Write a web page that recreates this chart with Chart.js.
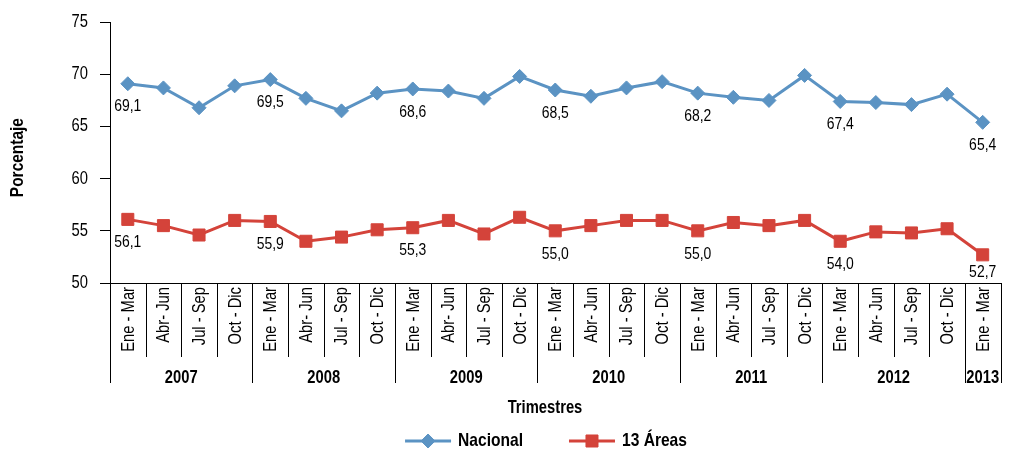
<!DOCTYPE html>
<html><head><meta charset="utf-8">
<script src="https://cdn.jsdelivr.net/npm/chart.js@4.4.1/dist/chart.umd.min.js"></script>
<style>html,body{margin:0;padding:0;background:#fff}#wrap{width:1010px;height:453px}</style>
</head><body><div id="wrap"><canvas id="c" width="1010" height="453"></canvas></div>
<script>
const categories = [
  "Ene - Mar","Abr- Jun","Jul - Sep","Oct - Dic",
  "Ene - Mar","Abr- Jun","Jul - Sep","Oct - Dic",
  "Ene - Mar","Abr- Jun","Jul - Sep","Oct - Dic",
  "Ene - Mar","Abr- Jun","Jul - Sep","Oct - Dic",
  "Ene - Mar","Abr- Jun","Jul - Sep","Oct - Dic",
  "Ene - Mar","Abr- Jun","Jul - Sep","Oct - Dic",
  "Ene - Mar"
];
const years = ["2007", "2008", "2009", "2010", "2011", "2012", "2013"];
const categoryYear = [
  "2007","2007","2007","2007","2008","2008","2008","2008",
  "2009","2009","2009","2009","2010","2010","2010","2010",
  "2011","2011","2011","2011","2012","2012","2012","2012","2013"
];
const nacional = [69.1, 68.7, 66.8, 68.9, 69.5, 67.7, 66.5, 68.2, 68.6, 68.4, 67.7, 69.8, 68.5, 67.9, 68.7, 69.3, 68.2, 67.8, 67.5, 69.9, 67.4, 67.3, 67.1, 68.1, 65.4];
const areas13 = [56.1, 55.5, 54.6, 56.0, 55.9, 54.0, 54.4, 55.1, 55.3, 56.0, 54.7, 56.3, 55.0, 55.5, 56.0, 56.0, 55.0, 55.8, 55.5, 56.0, 54.0, 54.9, 54.8, 55.2, 52.7];
const labeledIndices = [0, 4, 8, 12, 16, 20, 24];
const yTicks = [50, 55, 60, 65, 70, 75];
const seriesNames = ["Nacional", "13 Áreas"];
const yTitle = "Porcentaje";
const xTitle = "Trimestres";

const BLUE = "#5B93C3";
const RED = "#D4433A";
const FONT = "'Liberation Sans', Arial, sans-serif";
const NARROW = 0.82;

function narrowText(ctx, text, x, y, align, rot, k) {
  ctx.save();
  ctx.translate(x, y);
  if (rot) ctx.rotate(rot);
  ctx.scale(k || NARROW, 1);
  ctx.textAlign = align;
  ctx.fillText(text, 0, 0);
  ctx.restore();
}
function narrowWidth(ctx, text) { return ctx.measureText(text).width * NARROW; }

const overlay = {
  id: 'overlay',
  afterDatasetsDraw(chart) {
    const ctx = chart.ctx;
    const area = chart.chartArea;
    ctx.save();
    ctx.fillStyle = '#000';
    ctx.font = "17px " + FONT;
    ctx.textBaseline = 'middle';
    chart.data.datasets.forEach((ds, di) => {
      const meta = chart.getDatasetMeta(di);
      labeledIndices.forEach(i => {
        const el = meta.data[i];
        let y = el.y + 23;
        if (y > area.bottom - 11) y = area.bottom - 11;
        narrowText(ctx, ds.data[i].toFixed(1).replace('.', ','), el.x, y, 'center');
      });
    });
    ctx.restore();
  },
  afterDraw(chart) {
    const ctx = chart.ctx;
    const area = chart.chartArea;
    const xs = chart.scales.x;
    const ys = chart.scales.y;
    const n = categories.length;
    const step = xs.getPixelForValue(1) - xs.getPixelForValue(0);
    const b = i => xs.getPixelForValue(i) - step / 2;
    ctx.save();
    ctx.fillStyle = '#000';
    ctx.textBaseline = 'middle';
    // y tick labels
    ctx.font = "18px " + FONT;
    yTicks.forEach(v => narrowText(ctx, String(v), area.left - 22, ys.getPixelForValue(v), 'right'));
    // y title
    ctx.font = "bold 18px " + FONT;
    narrowText(ctx, yTitle, 18, (area.top + area.bottom) / 2 + 5, 'center', -Math.PI / 2, 0.86);
    // separators
    ctx.strokeStyle = '#000';
    ctx.lineWidth = 1;
    for (let i = 0; i <= n; i++) {
      const x = Math.round(b(i)) + 0.5;
      const isYear = i === 0 || i === n || categoryYear[i] !== categoryYear[i - 1];
      ctx.beginPath();
      ctx.moveTo(x, area.bottom);
      ctx.lineTo(x, area.bottom + (isYear ? 100 : 74));
      ctx.stroke();
    }
    // category labels
    ctx.font = "18px " + FONT;
    for (let i = 0; i < n; i++) {
      narrowText(ctx, categories[i], xs.getPixelForValue(i) + 1, area.bottom + 4, 'right', -Math.PI / 2);
    }
    // year labels
    ctx.font = "bold 18px " + FONT;
    years.forEach(yr => {
      const idx = categoryYear.map((c, i) => c === yr ? i : -1).filter(i => i >= 0);
      const x0 = b(idx[0]), x1 = b(idx[idx.length - 1] + 1);
      narrowText(ctx, yr, (x0 + x1) / 2, area.bottom + 95, 'center');
    });
    // x title
    narrowText(ctx, xTitle, 545, 408, 'center');
    // legend
    const markers = [{style: 'rectRot', r: 7, color: BLUE}, {style: 'rect', r: 8.5, color: RED}];
    ctx.font = "bold 19px " + FONT;
    const lineW = 46, gapText = 7, gapItem = 46;
    const widths = seriesNames.map(s => narrowWidth(ctx, s));
    const total = widths.reduce((a, w) => a + lineW + gapText + w, 0) + gapItem;
    let x = 546 - total / 2;
    const ly = 441;
    seriesNames.forEach((s, i) => {
      const m = markers[i];
      ctx.strokeStyle = m.color;
      ctx.lineWidth = 3;
      ctx.beginPath();
      ctx.moveTo(x, ly); ctx.lineTo(x + lineW, ly); ctx.stroke();
      ctx.fillStyle = m.color;
      ctx.lineWidth = 1;
      Chart.helpers.drawPoint(ctx, {pointStyle: m.style, radius: m.r, rotation: 0, borderWidth: 1}, x + lineW / 2, ly);
      ctx.fillStyle = '#000';
      narrowText(ctx, s, x + lineW + gapText, ly, 'left');
      x += lineW + gapText + widths[i] + gapItem;
    });
    ctx.restore();
  }
};

new Chart(document.getElementById('c'), {
  type: 'line',
  data: {
    labels: categories,
    datasets: [
      {label: seriesNames[0], data: nacional, borderColor: BLUE, backgroundColor: BLUE, borderWidth: 3,
       pointStyle: 'rectRot', pointRadius: 7, pointBorderWidth: 1, tension: 0},
      {label: seriesNames[1], data: areas13, borderColor: RED, backgroundColor: RED, borderWidth: 3,
       pointStyle: 'rect', pointRadius: 8.5, pointBorderWidth: 1, tension: 0}
    ]
  },
  options: {
    responsive: false,
    animation: false,
    layout: {padding: {top: 19, right: 0, bottom: 0, left: 0}},
    plugins: {legend: {display: false}, tooltip: {enabled: false}},
    scales: {
      x: {
        type: 'category', offset: true,
        grid: {display: false},
        border: {display: true, color: '#000', width: 1},
        ticks: {display: false},
        afterFit(s) { s.height = 170; }
      },
      y: {
        min: 50, max: 75,
        afterBuildTicks(s) { s.ticks = yTicks.map(v => ({value: v})); },
        ticks: {color: 'rgba(0,0,0,0)', font: {family: FONT, size: 17}, padding: 12},
        grid: {display: true, drawOnChartArea: false, drawTicks: true, tickLength: 10, color: '#000'},
        border: {display: true, color: '#000', width: 1},
        title: {display: false},
        afterFit(s) { s.width = 110; }
      }
    }
  },
  plugins: [overlay]
});
</script>
</body></html>
